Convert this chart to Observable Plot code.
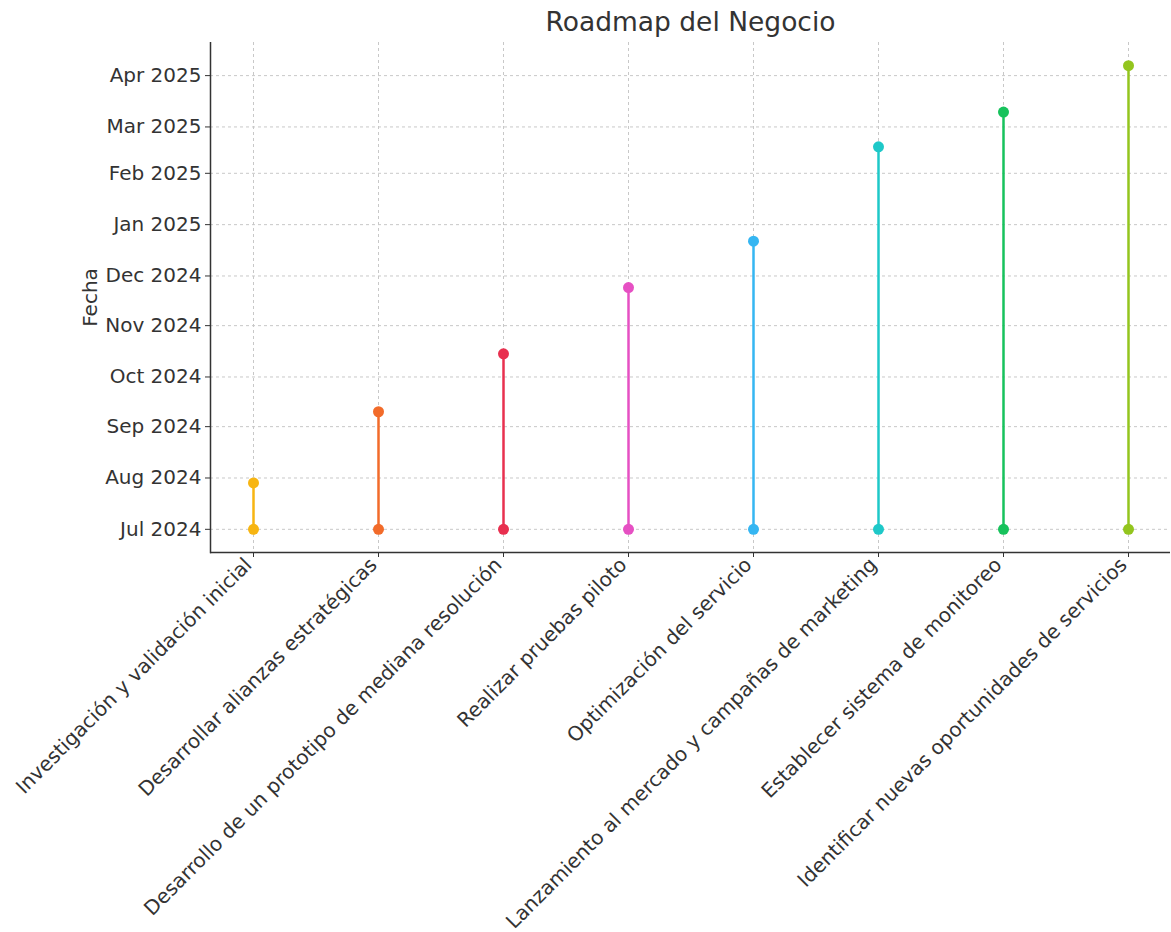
<!DOCTYPE html>
<html><head><meta charset="utf-8">
<script src="https://cdn.jsdelivr.net/npm/d3@7"></script>
<script src="https://cdn.jsdelivr.net/npm/@observablehq/plot@0.6"></script>
<style>
body{margin:0;background:#fff;font-family:"DejaVu Sans",sans-serif;}
#title{height:42px;line-height:44px;font-size:26.5px;color:#333;text-align:center;width:1171px;padding-left:210px;box-sizing:border-box;}
</style></head><body>
<div id="title">Roadmap del Negocio</div>
<div id="chart"></div>
<script>
const tasks = [
  "Investigación y validación inicial",
  "Desarrollar alianzas estratégicas",
  "Desarrollo de un prototipo de mediana resolución",
  "Realizar pruebas piloto",
  "Optimización del servicio",
  "Lanzamiento al mercado y campañas de marketing",
  "Establecer sistema de monitoreo",
  "Identificar nuevas oportunidades de servicios"
];
const startDates = ["2024-07-01","2024-07-01","2024-07-01","2024-07-01","2024-07-01","2024-07-01","2024-07-01","2024-07-01"];
const endDates = ["2024-07-29","2024-09-10","2024-10-15","2024-11-24","2024-12-22","2025-02-17","2025-03-10","2025-04-07"];
const colors = ["#f7b512","#f26b2a","#e8304f","#e650c3","#35b6f2","#1ec8c8","#17c25c","#93c51e"];
const monthTicks = ["2024-07-01","2024-08-01","2024-09-01","2024-10-01","2024-11-01","2024-12-01","2025-01-01","2025-02-01","2025-03-01","2025-04-01"];

const rows = tasks.map((t, i) => ({task: t, start: new Date(startDates[i]), end: new Date(endDates[i]), color: colors[i]}));
const ticks = monthTicks.map(d => new Date(d));
const minT = d3.min(rows, d => +d.start), maxT = d3.max(rows, d => +d.end);
const pad = (maxT - minT) * 0.05;
const yDomain = [new Date(minT - pad), new Date(maxT + pad)];

const chart = Plot.plot({
  width: 1171,
  height: 890,
  marginLeft: 210,
  marginRight: 1,
  marginTop: 0,
  marginBottom: 380,
  style: {fontFamily: "DejaVu Sans, sans-serif", color: "#333", background: "#fff"},
  x: {type: "point", domain: tasks, padding: 0.33},
  y: {type: "utc", domain: yDomain},
  color: {type: "identity"},
  marks: [
    Plot.gridY(ticks, {stroke: "#c8c8c8", strokeOpacity: 1, strokeDasharray: "3,3"}),
    Plot.gridX({stroke: "#c8c8c8", strokeOpacity: 1, strokeDasharray: "3,3"}),
    Plot.ruleX(rows, {x: "task", y1: "start", y2: "end", stroke: "color", strokeWidth: 2.5}),
    Plot.dot(rows, {x: "task", y: "start", fill: "color", r: 5.5}),
    Plot.dot(rows, {x: "task", y: "end", fill: "color", r: 5.5}),
    Plot.axisY(ticks, {tickFormat: d3.utcFormat("%b %Y"), fontSize: 20, tickSize: 5, tickPadding: 4, label: "Fecha", labelArrow: "none", labelAnchor: "center", labelOffset: 128}),
    Plot.axisX({tickSize: 5, tickFormat: () => "", label: null}),
    Plot.axisX({tickRotate: -45, fontSize: 20, tickSize: 0, tickPadding: 9, label: null, dx: -5, dy: 0}),
    Plot.ruleY([yDomain[0]], {stroke: "#333", strokeWidth: 1.5}),
    Plot.frame({anchor: "left", stroke: "#333", strokeWidth: 1.5})
  ]
});
document.getElementById("chart").appendChild(chart);
</script>
</body></html>
